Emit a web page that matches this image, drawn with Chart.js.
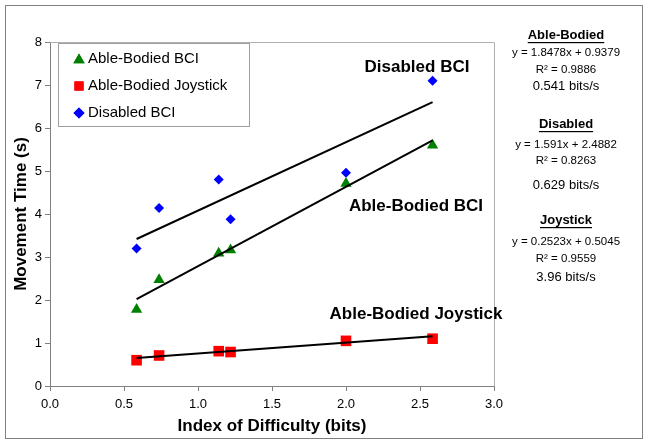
<!DOCTYPE html>
<html>
<head>
<meta charset="utf-8">
<script src="https://cdn.jsdelivr.net/npm/chart.js@4.4.0/dist/chart.umd.min.js"></script>
<style>
    html, body { margin: 0; padding: 0; background: #fff; }
    #wrap { width: 649px; height: 445px; }
</style>
</head>
<body>
<div id="wrap"><canvas id="fittsChart" width="649" height="445"></canvas></div>
<script>
// Index of difficulty (bits) for each target condition
const difficulty = [0.585, 0.737, 1.14, 1.22, 2.0, 2.585];

// Movement times (s)
const ableBodiedBci = [1.78, 2.47, 3.09, 3.16, 4.71, 5.60];
const ableBodiedJoystick = [0.60, 0.71, 0.81, 0.79, 1.05, 1.10];
const disabledBci = [3.20, 4.14, 4.80, 3.88, 4.96, 7.10];

// Linear fits, same order as the series above
const seriesNames = ['Able-Bodied BCI', 'Able-Bodied Joystick', 'Disabled BCI'];
const slopes = [1.8478, 0.2523, 1.591];
const intercepts = [0.9379, 0.5045, 2.4882];

// Side panel summary
const groupNames = ['Able-Bodied', 'Disabled', 'Joystick'];
const groupSlopes = ['1.8478', '1.591', '0.2523'];
const groupIntercepts = ['0.9379', '2.4882', '0.5045'];
const groupR2 = ['0.9886', '0.8263', '0.9559'];
const groupRates = ['0.541', '0.629', '3.96'];

const xTicks = [0, 0.5, 1, 1.5, 2, 2.5, 3];
const yTicks = [0, 1, 2, 3, 4, 5, 6, 7, 8];

const FONT = '"Liberation Sans", Arial, sans-serif';
const seriesData = [ableBodiedBci, ableBodiedJoystick, disabledBci];
const colors = ['#008000', '#FF0000', '#0000FF'];
const shapes = ['triangle', 'rect', 'rectRot'];
const radii = [6.5, 7.5, 5];
const legendRadii = [6.5, 6.5, 5.5];

function pointsOf(values) {
    return values.map((v, i) => ({ x: difficulty[i], y: v }));
}

function fitLine(k) {
    const x0 = difficulty[0];
    const x1 = difficulty[difficulty.length - 1];
    return [
        { x: x0, y: slopes[k] * x0 + intercepts[k] },
        { x: x1, y: slopes[k] * x1 + intercepts[k] }
    ];
}

const datasets = [];
// trend lines first so markers sit on top
seriesData.forEach((_, k) => {
    datasets.push({
        label: 'fit ' + seriesNames[k],
        data: fitLine(k),
        showLine: true,
        borderColor: '#000',
        borderWidth: 2,
        pointRadius: 0
    });
});
seriesData.forEach((vals, k) => {
    datasets.push({
        label: seriesNames[k],
        data: pointsOf(vals),
        showLine: false,
        pointStyle: shapes[k],
        pointRadius: radii[k],
        pointHoverRadius: radii[k],
        backgroundColor: colors[k],
        borderColor: colors[k],
        borderWidth: 0
    });
});

// Extra drawing: frames, legend, labels and the side panel
const decorations = {
    id: 'decorations',
    afterDraw(chart) {
        const ctx = chart.ctx;
        const area = chart.chartArea;
        ctx.save();

        // outer frame
        ctx.strokeStyle = '#808080';
        ctx.lineWidth = 1;
        ctx.strokeRect(5.5, 5.5, 637, 433);

        // plot area top and right edges
        ctx.strokeStyle = '#b0b0b0';
        ctx.beginPath();
        ctx.moveTo(area.left, area.top + 0.5);
        ctx.lineTo(area.right + 0.5, area.top + 0.5);
        ctx.lineTo(area.right + 0.5, area.bottom);
        ctx.stroke();

        // legend box
        const lx = 58, ly = 43, lw = 191, lh = 83;
        ctx.fillStyle = '#fff';
        ctx.fillRect(lx, ly, lw, lh);
        ctx.strokeStyle = '#a0a0a0';
        ctx.strokeRect(lx + 0.5, ly + 0.5, lw, lh);
        ctx.font = '15px ' + FONT;
        ctx.textBaseline = 'middle';
        ctx.textAlign = 'left';
        seriesNames.forEach((name, k) => {
            const cy = 59 + k * 27;
            ctx.fillStyle = colors[k];
            Chart.helpers.drawPoint(ctx, {
                pointStyle: shapes[k],
                radius: legendRadii[k],
                rotation: 0,
                borderWidth: 0
            }, 79, cy + (k === 0 ? 1 : 0));
            ctx.fill();
            ctx.fillStyle = '#000';
            ctx.fillText(name, 88, cy);
        });

        // series labels next to the fits
        ctx.font = 'bold 17px ' + FONT;
        ctx.textAlign = 'center';
        ctx.fillStyle = '#000';
        ctx.fillText('Disabled BCI', 417, 67);
        ctx.fillText('Able-Bodied BCI', 416, 206);
        ctx.fillText('Able-Bodied Joystick', 416, 314);

        // side panel
        const px = 566;
        const blockTops = [35, 124, 220];
        const eqOff = [18, 21, 22];
        const r2Off = [35, 37, 39];
        const rateOff = [51, 61, 57];
        groupNames.forEach((g, k) => {
            const top = blockTops[k];
            ctx.font = 'bold 13px ' + FONT;
            ctx.textAlign = 'center';
            ctx.fillText(g, px, top);
            const w = ctx.measureText(g).width;
            ctx.fillRect(px - w / 2, top + 7, w, 1.2);

            ctx.font = '11.5px ' + FONT;
            ctx.fillText('y = ' + groupSlopes[k] + 'x + ' + groupIntercepts[k], px, top + eqOff[k]);
            ctx.fillText('R² = ' + groupR2[k], px, top + r2Off[k]);

            ctx.font = '13px ' + FONT;
            ctx.fillText(groupRates[k] + ' bits/s', px, top + rateOff[k]);
        });

        ctx.restore();
    }
};

new Chart(document.getElementById('fittsChart').getContext('2d'), {
    type: 'scatter',
    data: { datasets: datasets },
    options: {
        responsive: false,
        animation: false,
        layout: {
            padding: { left: 0, right: 155, top: 42, bottom: 0 }
        },
        plugins: {
            legend: { display: false },
            tooltip: { enabled: false }
        },
        scales: {
            x: {
                type: 'linear',
                min: 0,
                max: 3,
                afterBuildTicks: (scale) => { scale.ticks = xTicks.map(v => ({ value: v })); },
                afterFit: (scale) => { scale.height = 59; },
                ticks: {
                    callback: (v) => Number(v).toFixed(1),
                    font: { family: FONT, size: 13 },
                    color: '#000',
                    padding: 6
                },
                grid: {
                    drawOnChartArea: false,
                    tickLength: 5,
                    color: '#808080'
                },
                border: { color: '#808080' },
                title: {
                    display: true,
                    text: 'Index of Difficulty (bits)',
                    font: { family: FONT, size: 17, weight: 'bold' },
                    color: '#000',
                    padding: { top: 0, bottom: 8 }
                }
            },
            y: {
                type: 'linear',
                min: 0,
                max: 8,
                afterBuildTicks: (scale) => { scale.ticks = yTicks.map(v => ({ value: v })); },
                afterFit: (scale) => { scale.width = 50; },
                ticks: {
                    font: { family: FONT, size: 13 },
                    color: '#000',
                    padding: 3
                },
                grid: {
                    drawOnChartArea: false,
                    tickLength: 5,
                    color: '#808080'
                },
                border: { color: '#808080' },
                title: {
                    display: true,
                    text: 'Movement Time (s)',
                    font: { family: FONT, size: 17, weight: 'bold' },
                    color: '#000',
                    padding: { top: 11, bottom: 0 }
                }
            }
        }
    },
    plugins: [decorations]
});
</script>
</body>
</html>
